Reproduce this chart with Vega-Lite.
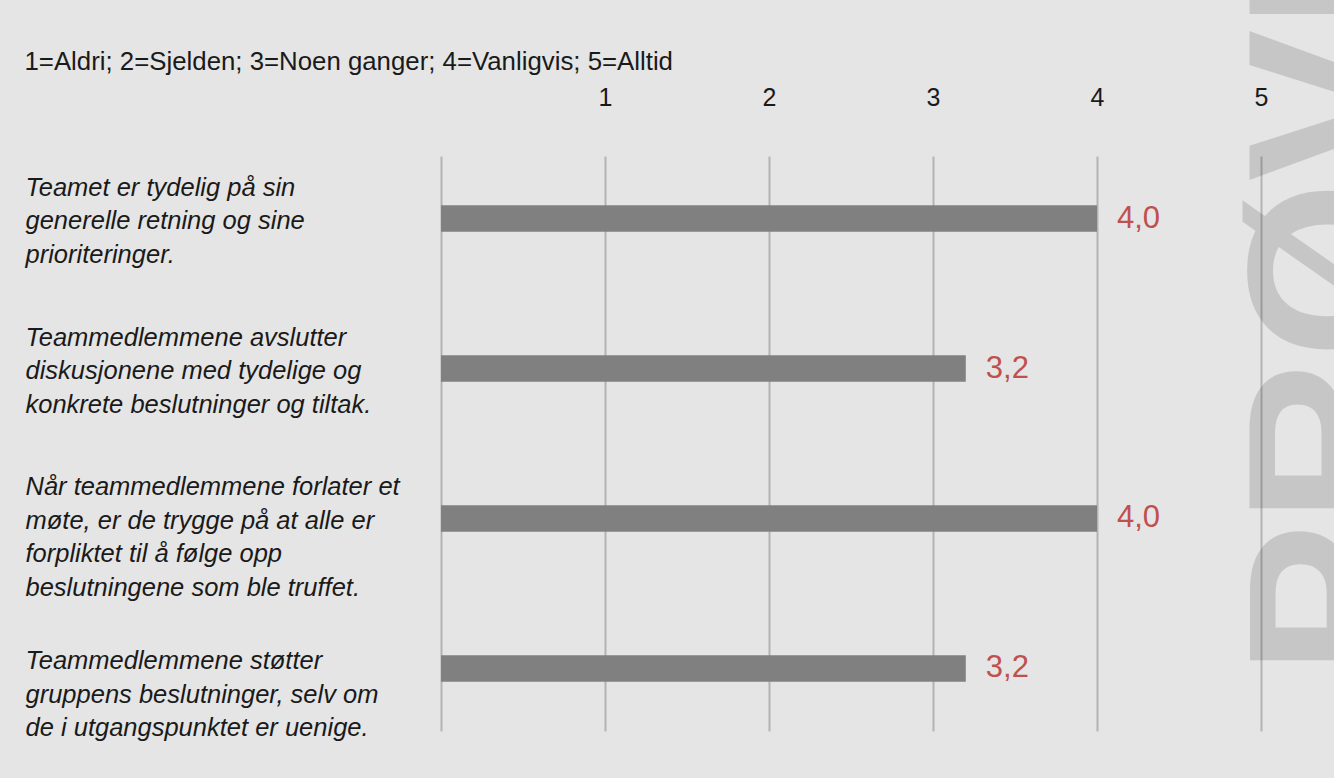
{
  "$schema": "https://vega.github.io/schema/vega-lite/v6.json",
  "autosize": {"type": "none"},
  "width": 820,
  "height": 575,
  "padding": {"left": 441, "top": 156, "right": 73, "bottom": 47},
  "background": "#e5e5e5",
  "config": {
    "view": {"stroke": null},
    "locale": {"number": {"decimal": ",", "thousands": " ", "grouping": [3], "currency": ["", " kr"]}}
  },
  "datasets": {
    "svar": [
      {"sporsmal": "Teamet er tydelig på sin\ngenerelle retning og sine\nprioriteringer.", "snitt": 4.0},
      {"sporsmal": "Teammedlemmene avslutter\ndiskusjonene med tydelige og\nkonkrete beslutninger og tiltak.", "snitt": 3.2},
      {"sporsmal": "Når teammedlemmene forlater et\nmøte, er de trygge på at alle er\nforpliktet til å følge opp\nbeslutningene som ble truffet.", "snitt": 4.0},
      {"sporsmal": "Teammedlemmene støtter\ngruppens beslutninger, selv om\nde i utgangspunktet er uenige.", "snitt": 3.2}
    ],
    "vannmerke": [
      {"merke": "PRØVE"}
    ]
  },
  "data": {"name": "svar"},
  "encoding": {
    "y": {
      "field": "sporsmal",
      "type": "nominal",
      "sort": null,
      "scale": {"paddingInner": 0.822, "paddingOuter": 0.3277},
      "axis": {
        "title": null,
        "orient": "left",
        "ticks": false,
        "domain": false,
        "grid": false,
        "labelAlign": "left",
        "labelPadding": 416,
        "labelBaseline": "alphabetic",
        "labelOffset": {"condition": {"test": "datum.index === 1", "value": 1}, "value": -23},
        "labelLineHeight": 33.5,
        "labelFont": "Liberation Sans",
        "labelFontStyle": "italic",
        "labelFontSize": 25.5,
        "labelColor": "#1a1a1a",
        "labelLimit": 0,
        "labelOverlap": false,
        "labelExpr": "split(datum.label, '\\n')"
      }
    }
  },
  "layer": [
    {
      "mark": {"type": "bar", "color": "#808080"},
      "encoding": {
        "x": {
          "field": "snitt",
          "type": "quantitative",
          "scale": {"domain": [0, 5], "nice": false},
          "axis": {
            "orient": "top",
            "values": [0, 1, 2, 3, 4, 5],
            "format": "d",
            "labelExpr": "datum.value == 0 ? '' : datum.label",
            "grid": true,
            "gridColor": "#b3b3b3",
            "gridWidth": 2,
            "ticks": false,
            "domain": false,
            "labelFont": "Liberation Sans",
            "labelFontSize": 25,
            "labelColor": "#1a1a1a",
            "labelBaseline": "middle",
            "labelPadding": 59,
            "labelFlush": false,
            "labelOverlap": false,
            "title": "1=Aldri; 2=Sjelden; 3=Noen ganger; 4=Vanligvis; 5=Alltid",
            "titleX": -417,
            "titleY": -95,
            "titleAlign": "left",
            "titleAnchor": "start",
            "titleBaseline": "middle",
            "titleFont": "Liberation Sans",
            "titleFontSize": 25.8,
            "titleFontWeight": "normal",
            "titleColor": "#1a1a1a"
          }
        }
      }
    },
    {
      "mark": {"type": "text", "align": "left", "baseline": "middle", "dx": 20, "font": "Liberation Sans", "fontSize": 31, "color": "#c0504d"},
      "encoding": {
        "x": {"field": "snitt", "type": "quantitative"},
        "text": {"field": "snitt", "type": "quantitative", "format": ".1f"}
      }
    },
    {
      "data": {"name": "vannmerke"},
      "mark": {"type": "text", "angle": 270, "align": "left", "baseline": "alphabetic", "dx": -7, "font": "Liberation Sans", "fontWeight": "bold", "fontSize": 228, "color": "#000000", "opacity": 0.13},
      "encoding": {
        "x": {"datum": 5.89},
        "y": {"datum": "Teammedlemmene støtter\ngruppens beslutninger, selv om\nde i utgangspunktet er uenige.", "type": "nominal"},
        "text": {"field": "merke", "type": "nominal"}
      }
    }
  ]
}
